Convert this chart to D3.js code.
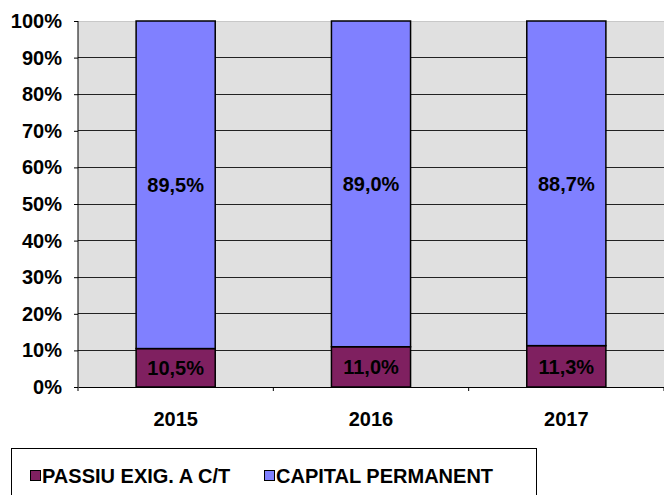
<!DOCTYPE html>
<html>
<head>
<meta charset="utf-8">
<script src="https://cdn.jsdelivr.net/npm/d3@7"></script>
<style>
  body { margin: 0; background: #fff; }
  text { font-family: "Liberation Sans", Arial, sans-serif; font-weight: bold; fill: #000; }
</style>
</head>
<body>
<div id="chart"></div>
<script>
// data
const years = ["2015", "2016", "2017"];
const passiu = [10.5, 11.0, 11.3];
const capital = [89.5, 89.0, 88.7];
const seriesNames = ["PASSIU EXIG. A C/T", "CAPITAL PERMANENT"];
const seriesColors = ["#7f2060", "#8080ff"];
const yTicks = [0, 10, 20, 30, 40, 50, 60, 70, 80, 90, 100];

const W = 664, H = 495;
const margin = {top: 21, right: 0, bottom: 108, left: 78};
const width = W - margin.left - margin.right,
  height = H - margin.top - margin.bottom;
const fontFam = "'Liberation Sans', Arial, sans-serif";

const svg = d3.select("#chart").append("svg")
  .attr("width", W)
  .attr("height", H);

const g = svg.append("g")
  .attr("transform", "translate(" + margin.left + "," + margin.top + ")");

const x = d3.scaleBand().domain(years).range([0, width]).paddingInner(0.595).paddingOuter(0.2975);
const y = d3.scaleLinear().domain([0, 100]).range([height, 0]);

// plot background
g.append("rect")
  .attr("width", width)
  .attr("height", height)
  .attr("fill", "#e0e0e0");

// gridlines
g.selectAll(".grid")
  .data(yTicks.filter(d => d > 0))
  .enter().append("line")
  .attr("x1", 0).attr("x2", width)
  .attr("y1", d => y(d)).attr("y2", d => y(d))
  .attr("stroke", d => d === 100 ? "#c8c8c8" : "#222")
  .attr("stroke-width", 1)
  .attr("shape-rendering", "crispEdges");

// stacked data
const stacked = d3.stack().keys([0, 1])(years.map((yr, i) => ({0: passiu[i], 1: capital[i], year: yr})));

const layers = g.selectAll(".layer")
  .data(stacked)
  .enter().append("g")
  .attr("fill", (d, i) => seriesColors[i]);

layers.selectAll("rect")
  .data(d => d)
  .enter().append("rect")
  .attr("x", d => x(d.data.year))
  .attr("width", x.bandwidth())
  .attr("y", d => y(d[1]))
  .attr("height", d => y(d[0]) - y(d[1]))
  .attr("stroke", "#000")
  .attr("stroke-width", 1.5);

layers.selectAll("text")
  .data(d => d)
  .enter().append("text")
  .attr("x", d => x(d.data.year) + x.bandwidth() / 2)
  .attr("y", d => (y(d[0]) + y(d[1])) / 2)
  .attr("dy", "0.36em")
  .attr("text-anchor", "middle")
  .style("font-size", "20px")
  .text(d => (d[1] - d[0]).toFixed(1).replace(".", ",") + "%");

// y axis
const yAxis = g.append("g")
  .call(d3.axisLeft(y).tickValues(yTicks).tickFormat(d => d + "%").tickSize(4).tickPadding(12));
yAxis.select(".domain").attr("stroke", "#000").attr("d", "M0,0V" + height);
yAxis.selectAll(".tick line").attr("stroke", "#000");
yAxis.selectAll("text").style("font-size", "20px").style("font-family", fontFam).style("font-weight", "bold");

// x axis
const xAxis = g.append("g")
  .attr("transform", "translate(0," + height + ")")
  .call(d3.axisBottom(x).tickSize(0).tickPadding(25));
xAxis.select(".domain").attr("stroke", "#000");
xAxis.selectAll("text").style("font-size", "20px").style("font-family", fontFam).style("font-weight", "bold");

// separator ticks between categories
xAxis.selectAll(".sep")
  .data(d3.range(years.length + 1))
  .enter().append("line")
  .attr("x1", i => i * width / years.length)
  .attr("x2", i => i * width / years.length)
  .attr("y1", 0).attr("y2", 4)
  .attr("stroke", "#000");

// legend
const legend = svg.append("g");
legend.append("rect")
  .attr("x", 11.5).attr("y", 448.5)
  .attr("width", 525).attr("height", 60)
  .attr("fill", "#fff")
  .attr("stroke", "#000")
  .attr("stroke-width", 1);

const legendX = [30, 264];
const items = legend.selectAll(".item")
  .data(seriesNames)
  .enter().append("g")
  .attr("transform", (d, i) => "translate(" + legendX[i] + ",476)");

items.append("rect")
  .attr("x", 0.5).attr("y", -5.5)
  .attr("width", 10).attr("height", 10)
  .attr("fill", (d, i) => seriesColors[i])
  .attr("stroke", "#000");

items.append("text")
  .attr("x", 12)
  .attr("y", 0)
  .attr("dy", "0.36em")
  .style("font-size", "20px")
  .text(d => d);
</script>
</body>
</html>
